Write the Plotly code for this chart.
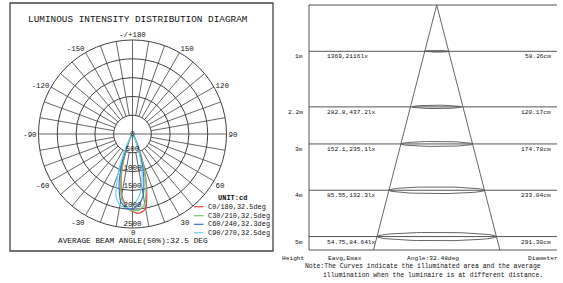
import math
import plotly.graph_objects as go

# ---------------- data ----------------
gamma = [-45, -40, -35, -30, -25, -20, -15, -10, -5, 0, 5, 10, 15, 20, 25, 30, 35, 40, 45]
c0_180 = [0, 5, 20, 70, 230, 600, 1150, 1650, 1930, 2060, 2116, 2010, 1450, 800, 330, 110, 30, 8, 0]
c30_210 = [0, 5, 20, 75, 250, 640, 1200, 1700, 1960, 2040, 2030, 1880, 1400, 790, 330, 110, 30, 8, 0]
c60_240 = [0, 8, 30, 110, 330, 800, 1380, 1820, 1980, 1990, 1900, 1650, 1150, 620, 240, 75, 20, 5, 0]
c90_270 = [0, 12, 45, 170, 500, 1120, 1700, 1930, 1960, 1900, 1720, 1400, 950, 500, 190, 60, 15, 4, 0]
series_names = ["C0/180,32.5deg", "C30/210,32.5deg", "C60/240,32.3deg", "C90/270,32.5deg"]
series_colors = ["#e8413c", "#6cc96c", "#3a6fd6", "#6fd3e8"]

radial_ticks = [0, 500, 1000, 1500, 2000, 2500]
angle_ticks = [0, 30, 60, 90, 120, 150, 180, 210, 240, 270, 300, 330]
angle_labels = ["0", "30", "60", "90", "120", "150", "-/+180", "-150", "-120", "-90", "-60", "-30"]

heights = [1, 2.2, 3, 4, 5]
height_labels = ["1m", "2.2m", "3m", "4m", "5m"]
eavg = [1369, 282.8, 152.1, 85.55, 54.75]
emax = [2116, 437.2, 235.1, 132.3, 84.64]
diameters_cm = [58.26, 120.17, 174.78, 233.04, 291.30]
beam_angle = 32.48

FONT = "Liberation Mono, Courier New, monospace"
TXT = "#111111"
GRID = "#404040"
W, H = 563, 283

fig = go.Figure()

# ---------------- polar diagram ----------------
# spokes every 10 deg (main axes through the centre, others from the first ring)
sr, st = [], []
for a in range(0, 360, 10):
    r0 = 0 if a % 90 == 0 else radial_ticks[1]
    sr += [r0, radial_ticks[-1], None]
    st += [a, a, None]
fig.add_trace(go.Scatterpolar(r=sr, theta=st, mode="lines",
                              line=dict(color=GRID, width=0.8),
                              hoverinfo="skip", showlegend=False))

for vals, name, col in zip([c0_180, c30_210, c60_240, c90_270], series_names, series_colors):
    fig.add_trace(go.Scatterpolar(r=vals, theta=gamma, mode="lines", name=name,
                                  line=dict(color=col, width=1.2, shape="spline", smoothing=0.6),
                                  showlegend=False))

# radial value labels along the 0 deg direction
fig.add_trace(go.Scatterpolar(
    r=radial_ticks, theta=[0] * len(radial_ticks), mode="text",
    text=[str(v) for v in radial_ticks],
    textposition=["middle center"] + ["top center"] * (len(radial_ticks) - 1),
    textfont=dict(family=FONT, size=7.6, color=TXT),
    hoverinfo="skip", showlegend=False))

cx, cy, R = 132.5, 134, 94
fig.update_layout(
    polar=dict(
        domain=dict(x=[(cx - R) / W, (cx + R) / W], y=[(H - cy - R) / H, (H - cy + R) / H]),
        bgcolor="white",
        radialaxis=dict(range=[0, 2500], tickvals=radial_ticks[1:], showticklabels=False,
                        showline=False, ticks="", gridcolor=GRID, gridwidth=0.8),
        angularaxis=dict(rotation=-90, direction="counterclockwise",
                         tickvals=angle_ticks, ticktext=[""] + angle_labels[1:], ticks="",
                         showgrid=False, showline=True, linecolor=GRID, linewidth=1,
                         tickfont=dict(family=FONT, size=7.4, color=TXT)),
    )
)

# ---------------- cone diagram ----------------
ymax = 5.29
half = math.tan(math.radians(beam_angle / 2))
fig.add_trace(go.Scatter(x=[0, -half * ymax, None, 0, half * ymax],
                         y=[0, ymax, None, 0, ymax], mode="lines",
                         line=dict(color="#555555", width=0.9),
                         xaxis="x2", yaxis="y2", hoverinfo="skip", showlegend=False))
ex, ey = [], []
for h, d in zip(heights, diameters_cm):
    a = d / 200.0
    b = a * 0.07 * 41 / 46.3
    for i in range(73):
        t = 2 * math.pi * i / 72
        ex.append(a * math.cos(t))
        ey.append(h + b * math.sin(t))
    ex.append(None)
    ey.append(None)
fig.add_trace(go.Scatter(x=ex, y=ey, mode="lines", line=dict(color="#555555", width=0.9),
                         xaxis="x2", yaxis="y2", hoverinfo="skip", showlegend=False))

fig.update_layout(
    xaxis2=dict(domain=[309 / W, 557 / W], range=[-3.115, 2.934], visible=False),
    yaxis2=dict(domain=[1 - 250 / H, 1 - 5 / H], range=[ymax, 0], visible=False, anchor="x2"),
    xaxis=dict(visible=False), yaxis=dict(visible=False),
)

shapes = []
lc = dict(color="#555555", width=1)
# right box: top, left, bottom
shapes.append(dict(type="line", xref="x2 domain", yref="y2 domain", x0=0, x1=1, y0=1, y1=1, line=lc))
shapes.append(dict(type="line", xref="x2 domain", yref="y2 domain", x0=0, x1=0, y0=0, y1=1, line=lc))
shapes.append(dict(type="line", xref="x2 domain", yref="y2 domain", x0=0, x1=1, y0=0, y1=0, line=lc))
for h in heights:
    shapes.append(dict(type="line", xref="x2 domain", yref="y2", x0=0, x1=1, y0=h, y1=h, line=lc))
# left box border
shapes.append(dict(type="rect", xref="paper", yref="paper", x0=10 / W, x1=273 / W,
                   y0=1 - 251 / H, y1=1 - 3 / H, line=dict(color="#444444", width=1.3)))
# legend samples
leg_y = [206.7, 215.7, 224.3, 232.7]
for yy, col in zip(leg_y, series_colors):
    shapes.append(dict(type="line", xref="paper", yref="paper", x0=194 / W, x1=203.5 / W,
                       y0=1 - yy / H, y1=1 - yy / H, line=dict(color=col, width=1.2)))

ann = []
def A(text, x, y, size, xanchor="center", xref="paper", yref="paper", yshift=0, xshift=0, bold=False):
    ann.append(dict(text=("<b>%s</b>" % text) if bold else text, x=x, y=y, xref=xref, yref=yref,
                    xanchor=xanchor, yanchor="middle", showarrow=False, xshift=xshift, yshift=yshift,
                    font=dict(family=FONT, size=size, color=TXT)))

A("LUMINOUS INTENSITY DISTRIBUTION DIAGRAM", 138 / W, 1 - 19 / H, 9.4)
A(angle_labels[0], cx / W, 1 - 233 / H, 7.4)
A("AVERAGE BEAM ANGLE(50%):32.5 DEG", 133.3 / W, 1 - 240.5 / H, 7.8)
A("UNIT:cd", 232 / W, 1 - 197.7 / H, 7, bold=True)
for yy, name in zip(leg_y, series_names):
    A(name, 206 / W, 1 - yy / H, 6.9, xanchor="left")

for h, hl, ea, em, d in zip(heights, height_labels, eavg, emax, diameters_cm):
    A(hl, 0, h, 6.2, xanchor="right", xref="x2 domain", yref="y2", yshift=-5.5, xshift=-4)
    A(f"{ea:g},{em:g}lx", (325 - 309) / 248, h, 6.2, xanchor="left", xref="x2 domain", yref="y2", yshift=-5.5)
    A(f"{d:.2f}cm", (552.7 - 309) / 248, h, 6.2, xanchor="right", xref="x2 domain", yref="y2", yshift=-5.5)

A("Height", 293 / W, 1 - 258.3 / H, 6.2)
A("Eavg,Emax", 345 / W, 1 - 258.3 / H, 6.2)
A("Angle:%gdeg" % beam_angle, 432.5 / W, 1 - 258.3 / H, 6.2)
A("Diameter", 542.5 / W, 1 - 258.3 / H, 6.2)
A("Note:The Curves indicate the illuminated area and the average", 303.3 / W, 1 - 266 / H, 6.45, xanchor="left")
A("illumination when the luminaire is at different distance.", 321 / W, 1 - 275 / H, 6.45, xanchor="left")

fig.update_layout(shapes=shapes, annotations=ann, width=W, height=H, autosize=False,
                  margin=dict(l=0, r=0, t=0, b=0), paper_bgcolor="white", plot_bgcolor="white",
                  showlegend=False)

fig.write_html("out.html", config={"displayModeBar": False},
               post_script="document.body.style.margin='0';")
